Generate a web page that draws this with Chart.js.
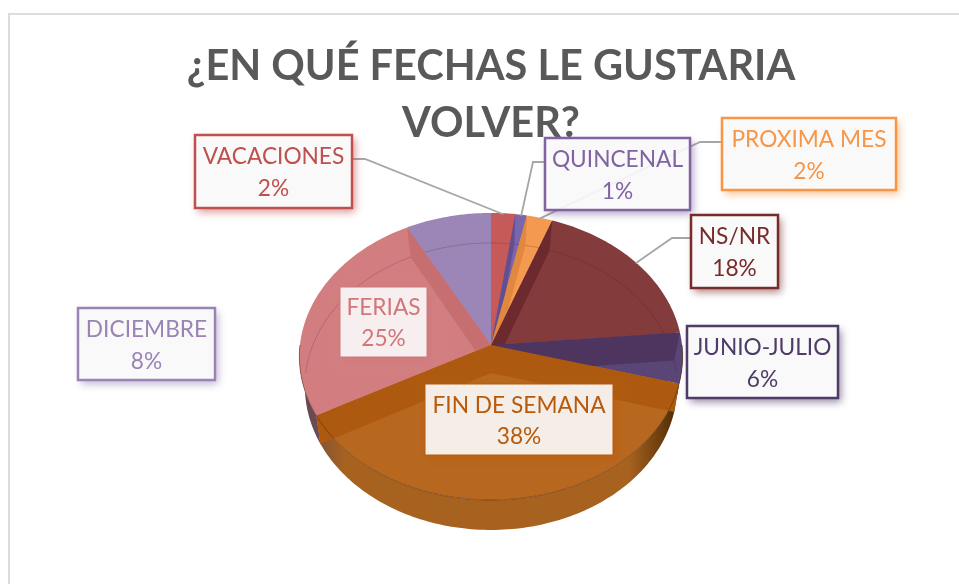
<!DOCTYPE html>
<html>
<head>
<meta charset="utf-8">
<style>
html,body{margin:0;padding:0;background:#fff;overflow:hidden}
#wrap{position:relative;width:959px;height:584px;overflow:hidden}
#frame{position:absolute;left:8px;top:13px;right:-4px;bottom:-4px;border-left:2px solid #dcdcdc;border-top:2px solid #dcdcdc}
canvas{position:absolute;left:0;top:0}
</style>
<script src="https://cdn.jsdelivr.net/npm/chart.js@4"></script>
</head>
<body>
<div id="wrap"><div id="frame"></div><canvas id="c" width="959" height="584"></canvas></div>
<script>
const titleLines = ['¿EN QUÉ FECHAS LE GUSTARIA', 'VOLVER?'];
const categories = ['VACACIONES','QUINCENAL','PROXIMA MES','NS/NR','JUNIO-JULIO','FIN DE SEMANA','FERIAS','DICIEMBRE'];
const shares = [2.2,1.05,2.35,18,5.7,37.8,25.1,7.8];

const faceColors  = ['#c55a58','#7b66ab','#f39a50','#833b3c','#5a4676','#b8671e','#d27e80','#9c86b8'];
const wallColors  = ['#a94a48','#634f90','#e0883f','#6d2a2e','#4e3560','#ad5a10','#c76f70','#8b76a8'];
const sideColors  = ['#8f3f3d','#55437d','#b86e30','#5c2528','#43305a','#a8621f','#6a4a70','#7a6897'];
const boxColors   = ['#c0504d','#8064a2','#f79646','#772c2a','#4f3b68','#b85a0c','#d1777a','#9a84b6'];

// Box of each data label, same order as categories: left, top, right, bottom
const labelBoxes = [
  [195,135,352,208],[545,138,690,210],[722,118,896,190],[691,215,778,288],
  [687,326,838,398],[425,384,613,455],[340,287,427,357],[78,308,215,380]
];
const leaderKnee = {0:[365,159],1:[533,162],2:[700,142],3:[672,238]};
const leaderEnd  = {0:[353,159],1:[544,162],2:[721,142],3:[691,238]};

// Perspective of the tilted disc, as fractions of the library's pie radius
const TOP = {dy:0,  rx:1,    ry:142.6/191, k:0.08};
const BOT = {dy:28, rx:0.97, ry:142.2/191, k:0.094};
const pt = (p,a,f)=>{
  const x=Math.cos(a), y=Math.sin(a), s=1/(1-f.k*y);
  return [p.x+p.outerRadius*f.rx*x*s, p.y+f.dy+p.outerRadius*f.ry*y*s];
};
function trace(ctx,p,f,a1,a2,first){
  const n=Math.max(2,Math.ceil(Math.abs(a2-a1)/0.02));
  for(let j=0;j<=n;j++){
    const q=pt(p,a1+(a2-a1)*j/n,f);
    if(j===0&&first) ctx.moveTo(q[0],q[1]); else ctx.lineTo(q[0],q[1]);
  }
}
const arcsOf = chart => chart.getDatasetMeta(0).data;

const pie3d = {
  id:'pie3d',
  beforeDatasetsDraw(chart){
    const ctx=chart.ctx, arcs=arcsOf(chart), p=arcs[0];
    // outer wall, front half only
    arcs.forEach((arc,i)=>{
      const a1=Math.max(arc.startAngle,0), a2=Math.min(arc.endAngle,Math.PI);
      if(a2<=a1) return;
      const R=p.outerRadius, g=ctx.createLinearGradient(p.x-R,0,p.x+R,0);
      g.addColorStop(0,'#6a4a48'); g.addColorStop(.12,sideColors[i]);
      g.addColorStop(.86,sideColors[i]); g.addColorStop(.97,'#5a3208'); g.addColorStop(1,'#3e2206');
      ctx.beginPath();
      trace(ctx,p,TOP,a1,a2,true);
      trace(ctx,p,BOT,a2,a1,false);
      ctx.closePath(); ctx.fillStyle=g; ctx.fill();
    });
    // the library's arcs, flattened into the tilted plane
    ctx.save();
    ctx.translate(p.x,p.y); ctx.scale(0.97,0.68); ctx.translate(-p.x,-p.y);
  },
  afterDatasetsDraw(chart){
    const ctx=chart.ctx, arcs=arcsOf(chart), p=arcs[0];
    ctx.restore();
    // top faces with perspective
    arcs.forEach((arc,i)=>{
      ctx.beginPath(); ctx.moveTo(p.x,p.y);
      trace(ctx,p,TOP,arc.startAngle,arc.endAngle,false);
      ctx.closePath(); ctx.fillStyle=faceColors[i]; ctx.fill();
    });
    // far rim of the bottom face, seen through the glass
    ctx.beginPath(); trace(ctx,p,BOT,Math.PI,2*Math.PI,true);
    ctx.strokeStyle='rgba(70,30,40,.22)'; ctx.lineWidth=1; ctx.stroke();
    // inner cut faces that look toward the viewer
    const wall=(a,color)=>{
      const t=pt(p,a,TOP), f=pt(p,a,BOT);
      ctx.beginPath(); ctx.moveTo(p.x,p.y); ctx.lineTo(t[0],t[1]); ctx.lineTo(f[0],f[1]); ctx.lineTo(p.x,p.y+BOT.dy);
      ctx.closePath(); ctx.fillStyle=color; ctx.fill();
    };
    const order=arcs.map((a,i)=>i).sort((m,n)=>{
      const s=k=>Math.sin((arcs[k].startAngle+arcs[k].endAngle)/2);
      return s(m)-s(n);
    });
    order.forEach(i=>{
      const arc=arcs[i];
      if(Math.sin(arc.startAngle+Math.PI/2)>0.001) wall(arc.startAngle,wallColors[i]);
      if(Math.sin(arc.endAngle+Math.PI/2)<-0.001) wall(arc.endAngle,wallColors[i]);
    });
    // near rim of the top face
    ctx.beginPath(); trace(ctx,p,TOP,0,Math.PI,true);
    ctx.strokeStyle='rgba(70,30,10,.45)'; ctx.lineWidth=1; ctx.stroke();
  },
  afterDraw(chart){
    const ctx=chart.ctx, arcs=arcsOf(chart), p=arcs[0];
    // leader lines
    ctx.save();
    ctx.strokeStyle='#a6a6a6'; ctx.lineWidth=1.8;
    Object.keys(leaderKnee).forEach(k=>{
      const arc=arcs[k], m=(arc.startAngle+arc.endAngle)/2, q=pt(p,m,TOP);
      ctx.beginPath();
      ctx.moveTo(leaderEnd[k][0],leaderEnd[k][1]);
      ctx.lineTo(leaderKnee[k][0],leaderKnee[k][1]);
      ctx.lineTo(q[0],q[1]+1); ctx.stroke();
    });
    ctx.restore();
    // data labels
    categories.forEach((name,i)=>{
      const b=labelBoxes[i], w=b[2]-b[0], h=b[3]-b[1], col=boxColors[i], inside=(i===5||i===6);
      ctx.save();
      ctx.beginPath(); ctx.rect(0,0,chart.width,chart.height); ctx.rect(b[0],b[1],w,h); ctx.clip('evenodd');
      ctx.shadowColor=col+'99'; ctx.shadowBlur=8; ctx.shadowOffsetX=3; ctx.shadowOffsetY=4;
      ctx.fillStyle='#fff'; ctx.fillRect(b[0],b[1],w,h);
      ctx.restore();
      ctx.save();
      ctx.fillStyle='rgba(250,248,248,.92)'; ctx.fillRect(b[0],b[1],w,h);
      ctx.strokeStyle=col; ctx.lineWidth=inside?1:2.5; ctx.strokeRect(b[0],b[1],w,h);
      ctx.fillStyle=col; ctx.textAlign='center'; ctx.textBaseline='middle';
      ctx.font='22.7px Lato';
      const mid=(b[0]+b[2])/2;
      ctx.fillText(name,mid,b[1]+h*0.30);
      ctx.fillText(Math.round(shares[i])+'%',mid,b[1]+h*0.74);
      ctx.restore();
    });
  }
};

new Chart(document.getElementById('c'),{
  type:'pie',
  data:{labels:categories,datasets:[{data:shares,backgroundColor:faceColors,borderWidth:0}]},
  plugins:[pie3d],
  options:{
    responsive:false,animation:false,
    layout:{padding:{left:23,right:0,top:38,bottom:48}},
    plugins:{
      legend:{display:false},tooltip:{enabled:false},
      title:{display:true,text:titleLines,color:'#595959',
        font:{family:'Lato',size:41.5,weight:'bold',lineHeight:1.373},
        padding:{top:0,bottom:2}}
    }
  }
});
</script>
</body>
</html>
